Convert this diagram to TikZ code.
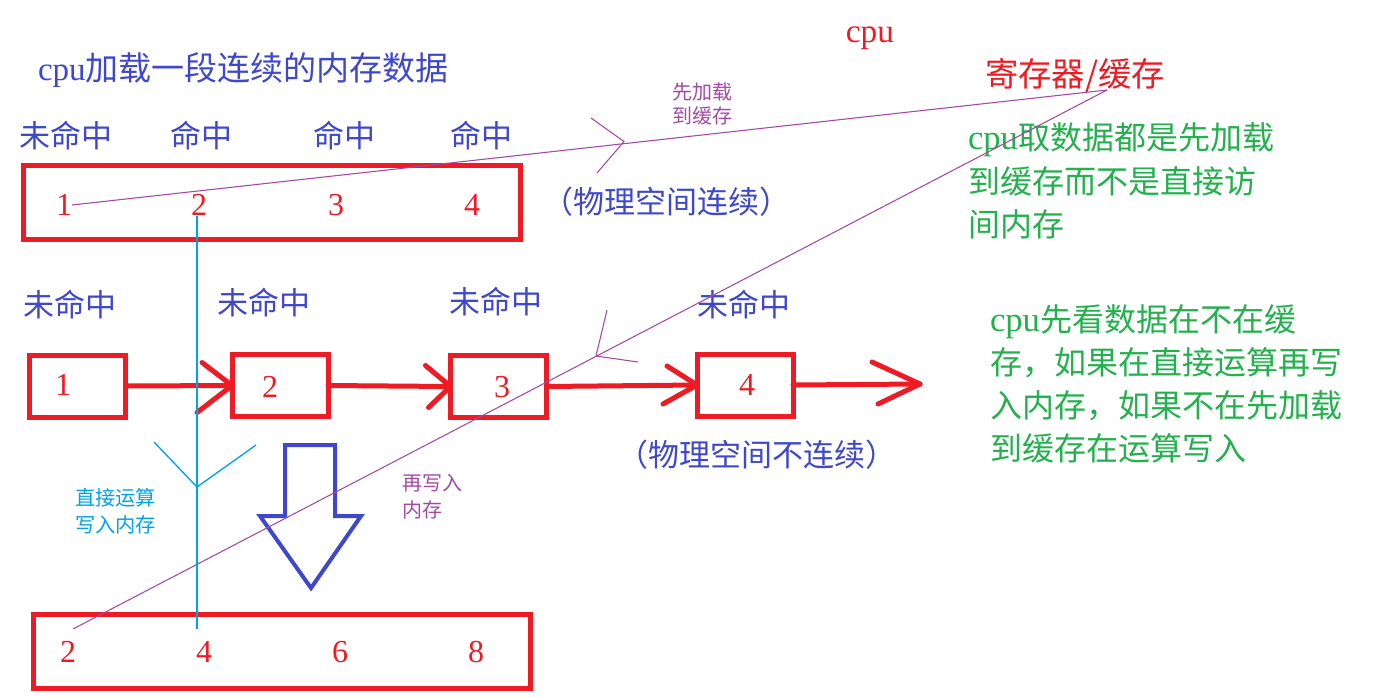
\documentclass[tikz,border=0pt]{standalone}
\usepackage{fontspec}
\setmainfont{Liberation Serif}
\newfontfamily\cjk{Noto Sans CJK SC}
\definecolor{pred}{RGB}{237,28,36}
\definecolor{pblue}{RGB}{63,72,204}
\definecolor{pgreen}{RGB}{34,177,76}
\definecolor{ppurple}{RGB}{163,73,164}
\definecolor{pcyan}{RGB}{0,162,232}
\newcommand\lat[1]{{\fontsize{26}{28}\selectfont #1}}
\begin{document}
\begin{tikzpicture}[x=0.75pt,y=-0.75pt,
  every node/.style={inner sep=0pt, outer sep=0pt},
  hit/.style={text=pblue, font=\cjk\fontsize{23.25}{28}\selectfont, anchor=west},
  bluetxt/.style={text=pblue, font=\fontsize{23.25}{28}\selectfont, anchor=west},
  num/.style={text=pred, font=\fontsize{24}{28}\selectfont},
  redtxt/.style={text=pred, font=\fontsize{25}{28}\selectfont},
  greentxt/.style={text=pgreen, font=\fontsize{24}{28}\selectfont, anchor=west},
  smallp/.style={text=ppurple, font=\cjk\fontsize{15}{18}\selectfont, anchor=west},
  smallc/.style={text=pcyan, font=\cjk\fontsize{15.2}{18}\selectfont, anchor=west},
  rbox/.style={draw=pred, line width=3.75pt, minimum width=72pt, minimum height=46.5pt},
  membox/.style={draw=pred, line width=3.75pt, minimum width=372.4pt, minimum height=55.3pt},
  redarrow/.style={draw=pred, line width=3.75pt, line cap=round, line join=round},
  pline/.style={draw=ppurple, line width=0.8pt},
  cline/.style={draw=pcyan, line width=1pt},
  bigarrow/.style={draw=pblue, line width=3pt, line join=miter}
]
\useasboundingbox (0,0) rectangle (1389,697);

% title and top labels
\node[bluetxt, font=\fontsize{24.75}{28}\selectfont] (title) at (38,70) {cpu\cjk 加载一段连续的内存数据};
\node[redtxt] (cpu) at (870,38) {cpu};
\node[redtxt, anchor=west] (reg) at (985,75) {\cjk 寄存器/缓存};

% top memory block
\node[hit] (h1) at (19,136) {未命中};
\node[hit] (h2) at (170,136) {命中};
\node[hit] (h3) at (313,136) {命中};
\node[hit] (h4) at (450,136) {命中};
\node[membox] (topbox) at (271.75,202.25) {};
\node[num] (t1) at (64,205) {1};
\node[num] (t2) at (199,205) {2};
\node[num] (t3) at (336,205) {3};
\node[num] (t4) at (472,205) {4};
\node[bluetxt] (cont) at (542,202) {\cjk （物理空间连续）};

% green notes
\node[greentxt] (ga) at (968,140) {\lat{cpu}\cjk 取数据都是先加载};
\node[greentxt] (gb) at (968,181) {\cjk 到缓存而不是直接访};
\node[greentxt] (gc) at (968,224) {\cjk 间内存};
\node[greentxt] (gd) at (990,322) {\lat{cpu}\cjk 先看数据在不在缓};
\node[greentxt] (ge) at (990,363) {\cjk 存，如果在直接运算再写};
\node[greentxt] (gf) at (990,406) {\cjk 入内存，如果不在先加载};
\node[greentxt] (gg) at (990,448) {\cjk 到缓存在运算写入};

% linked list
\node[hit] (m1) at (23,305) {未命中};
\node[hit] (m2) at (217,303) {未命中};
\node[hit] (m3) at (449,302) {未命中};
\node[hit] (m4) at (697,305) {未命中};
\node[rbox] (b1) at (77.5,386) {};
\node[rbox] (b2) at (280,385.5) {};
\node[rbox] (b3) at (498.5,386.5) {};
\node[rbox] (b4) at (745,385) {};
\node[num] (l1) at (63,385) {1};
\node[num] (l2) at (270,387) {2};
\node[num] (l3) at (502,387) {3};
\node[num] (l4) at (747,385) {4};
\coordinate (tail) at (920,384);
\node[bluetxt] (ncont) at (617,455) {\cjk （物理空间不连续）};

\draw[redarrow] (b1.east) -- (b2.west);
\draw[redarrow] ([shift={(-30,-23)}]b2.west) -- (b2.west) -- ([shift={(-35,27)}]b2.west);
\draw[redarrow] (b2.east) -- (b3.west);
\draw[redarrow] ([shift={(-25,-21)}]b3.west) -- (b3.west) -- ([shift={(-22,21)}]b3.west);
\draw[redarrow] (b3.east) -- (b4.west);
\draw[redarrow] ([shift={(-30,-19)}]b4.west) -- (b4.west) -- ([shift={(-34,19)}]b4.west);
\draw[redarrow] (b4.east) -- (tail);
\draw[redarrow] ([shift={(-48,-22)}]tail) -- (tail) -- ([shift={(-42,20)}]tail);

% bottom memory block
\node[membox] (botbox) at (281.75,651.5) {};
\node[num] (r1) at (68,652) {2};
\node[num] (r2) at (204,652) {4};
\node[num] (r3) at (340,652) {6};
\node[num] (r4) at (476,652) {8};

% big blue arrow
\draw[bigarrow] (285,445) -- (335,445) -- (335,516) -- (361,516) -- (311,588) -- (260,516) -- (285,516) -- cycle;

% purple cache lines
\coordinate (cache) at (1107,90);
\coordinate (pend) at (73,629);
\draw[pline] (t1.east) -- (cache);
\coordinate (c1) at (624,141.5);
\draw[pline] (591,118) -- (c1) -- (597,173);
\draw[pline] (cache) -- (pend);
\coordinate (c2) at (596,356);
\draw[pline] (607,310) -- (c2) -- (638,362);
\node[smallp] (pa) at (672,92) {先加载};
\node[smallp] (pb) at (672,116) {到缓存};
\node[smallp] (pc) at (402,483) {再写入};
\node[smallp] (pd) at (402,510) {内存};

% cyan direct line
\coordinate (cend) at (197,629);
\draw[cline] (t2.south -| cend) -- (cend);
\coordinate (cv) at (197,487);
\draw[cline] (154,442) -- (cv) -- (256,445);
\node[smallc] (ca) at (75,498) {直接运算};
\node[smallc] (cb) at (75,525) {写入内存};
\end{tikzpicture}
\end{document}
